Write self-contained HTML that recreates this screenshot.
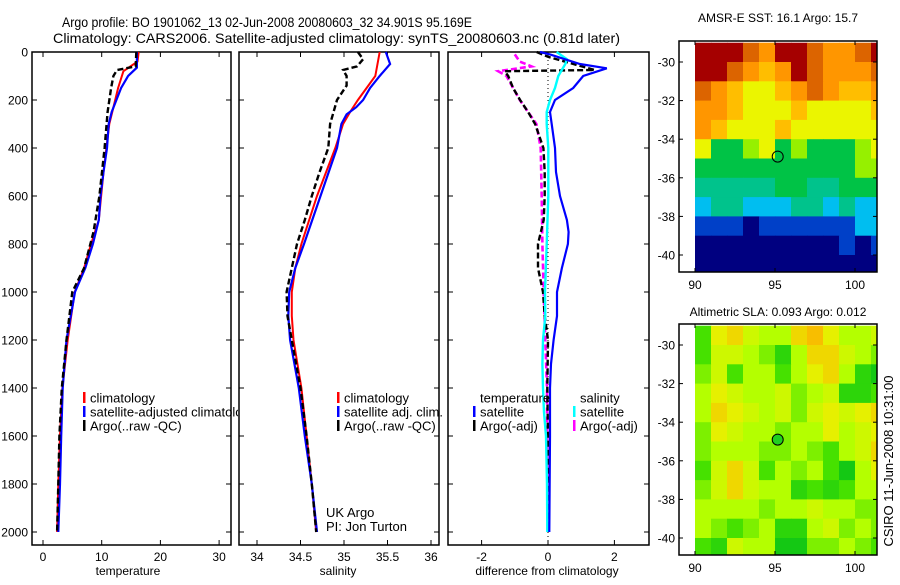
<!DOCTYPE html>
<html><head><meta charset="utf-8"><style>
body{margin:0;background:#fff}
svg text{font-family:"Liberation Sans",sans-serif;fill:#000}
</style></head><body>
<svg id="chart" width="900" height="580" viewBox="0 0 900 580" xmlns="http://www.w3.org/2000/svg">
<rect width="900" height="580" fill="#fff"/>
<text x="62" y="27" font-size="14" textLength="410" lengthAdjust="spacingAndGlyphs">Argo profile: BO 1901062_13 02-Jun-2008 20080603_32 34.901S 95.169E</text>
<text x="53" y="43" font-size="14" textLength="567" lengthAdjust="spacingAndGlyphs">Climatology: CARS2006. Satellite-adjusted climatology: synTS_20080603.nc (0.81d later)</text>
<defs><clipPath id="legclip"><rect x="0" y="0" width="238" height="580"/></clipPath></defs>
<g id="layer"></g>
</svg>
<script>
// ---------- profile data ----------
const tempClimDepth = [0,40,80,150,200,300,500,700,800,900,1000,1200,1400,1600,1800,2000];
const tempClim      = [16.3,16.1,13.7,12.8,12.3,11.3,10.3,9.5,8.2,7.0,5.4,4.2,3.3,2.9,2.6,2.4];
const tempSatDepth  = [0,65,100,150,200,250,300,400,500,600,700,800,900,1000,1200,1400,1600,1800,2000];
const tempSat       = [16.0,16.0,14.5,13.3,12.5,11.7,11.2,10.9,10.3,9.8,9.5,8.5,7.2,5.45,4.0,3.35,3.1,2.9,2.6];
const tempArgoDepth = [0,60,75,100,150,250,400,600,750,900,1000,1200,1400,1600,1800,2000];
const tempArgo      = [15.9,15.8,12.6,12.0,11.6,11.0,10.5,9.6,8.6,7.0,5.0,4.0,3.2,2.8,2.6,2.4];

const salClimDepth = [0,100,150,200,250,300,400,600,800,900,1000,1100,1200,1400,1600,1800,2000];
const salClim      = [35.41,35.36,35.26,35.16,35.07,34.99,34.90,34.69,34.51,34.44,34.40,34.40,34.42,34.51,34.57,34.63,34.68];
const salSatDepth  = [0,50,100,150,200,230,260,300,400,600,800,900,1000,1100,1200,1400,1600,1800,2000];
const salSat       = [35.48,35.53,35.41,35.30,35.22,35.14,35.03,34.97,34.92,34.73,34.54,34.44,34.37,34.36,34.38,34.48,34.55,34.63,34.69];
const salArgoDepth = [0,30,60,75,100,140,200,300,400,500,600,700,800,900,1000,1100,1200,1400,1600,1800,2000];
const salArgo      = [35.16,35.22,35.15,34.99,35.03,35.03,34.92,34.84,34.82,34.72,34.63,34.55,34.46,34.40,34.34,34.35,34.40,34.50,34.57,34.63,34.68];

const dTSatDepth  = [0,10,50,68,100,150,200,250,300,400,500,600,700,750,800,900,1000,1100,1200,1300,1400,1600,2000];
const dTSat       = [-0.24,0.06,0.96,1.77,1.06,0.76,0.21,0.06,0.11,0.21,0.24,0.36,0.57,0.62,0.60,0.42,0.27,0.27,0.17,0.09,0.06,0.06,0.04];
const dTArgoDepth = [0,20,75,80,100,150,200,250,300,400,500,600,700,800,900,1000,1100,1200,1400,1600,2000];
const dTArgo      = [-0.34,0.0,1.4,-1.3,-1.2,-1.05,-0.84,-0.6,-0.39,-0.14,-0.1,-0.1,-0.13,-0.3,-0.3,-0.15,-0.1,0.0,-0.02,0.0,0.02];
const dSSatDepth  = [0,30,50,100,150,200,250,300,400,600,800,1000,1100,1200,1300,1400,1500,1600,1800,2000];
const dSSat       = [0.26,0.57,0.52,0.31,0.21,0.06,-0.04,-0.04,0.01,0.01,-0.04,-0.09,-0.08,-0.15,-0.17,-0.15,-0.12,-0.06,-0.03,-0.02];
const dSArgoDepth = [10,40,60,80,100,150,200,250,300,400,600,800,1000,1200,1400,2000];
const dSArgo      = [-1.0,-0.85,-0.5,-1.5,-1.25,-1.05,-0.85,-0.6,-0.35,-0.22,-0.19,-0.17,-0.13,-0.08,-0.03,-0.01];

const depthTicks = [0,200,400,600,800,1000,1200,1400,1600,1800,2000];
const tempTicks = [0,10,20,30];
const salTicks = [34,34.5,35,35.5,36];
const diffTicks = [-2,0,2];

// ---------- map data (1-degree cells, rows from -29 southward, cols from 90 eastward) ----------
const mapLonTicks = [90,95,100];
const mapLatTicks = [-30,-32,-34,-36,-38,-40];
const sstGrid = [
 [19,19,19,18.3,17.6,19,19,18.3,17.6,17.6,18.3,19],
 [19,19,18.3,17.6,17,17.6,19,18.3,17.6,17.6,17.6,18.3],
 [18.3,17.6,17,16.4,16.4,17,17.6,18.3,17.6,17,17,17.6],
 [17.6,17.6,17,16.4,16.4,16.4,17,16.4,16.4,16.4,16.4,17],
 [17.6,17,16.4,16.4,16.4,17,16.4,16.4,16.4,16.4,16.4,16.4],
 [16.4,15.4,15.4,15.9,16.4,15.4,15.9,15.4,15.4,15.4,15.9,16.4],
 [15.4,15.4,15.4,15.4,15.4,15.4,15.4,15.4,15.4,15.4,15.9,15.9],
 [14.8,14.8,14.8,14.8,14.8,15.4,15.4,14.8,14.8,15.4,15.4,15.4],
 [14.1,14.8,14.8,14.1,14.1,14.1,14.8,14.8,14.1,14.8,14.1,14.1],
 [13.4,13.4,13.4,12.7,13.4,13.4,13.4,13.4,13.4,13.4,14.1,14.1],
 [12.7,12.7,12.7,12.7,12.7,12.7,12.7,12.7,12.7,13.4,12.7,13.4],
 [12.7,12.7,12.7,12.7,12.7,12.7,12.7,12.7,12.7,12.7,12.7,12.7]
];
const slaGrid = [
 [-0.1,0.1,0.15,0.05,0,0,0.15,0.2,0.1,0,0,0.05],
 [-0.1,0.05,0.05,0,-0.05,-0.15,0,0.15,0.15,0.05,0,-0.05],
 [-0.05,0.05,-0.1,0,0,-0.1,0,0.1,0.15,0,-0.15,-0.2],
 [0,0.1,0.05,0,0,0.05,-0.05,0,0.05,-0.15,-0.15,-0.1],
 [0,0.15,0.1,0.05,0,0.05,-0.05,0.05,0.1,0.05,0.1,0.15],
 [-0.05,0.1,0.05,0,0,-0.05,0,0,0.1,0,0.05,0.1],
 [-0.05,0,0,0,-0.05,-0.05,0,-0.05,-0.1,0,0.05,0.15],
 [-0.1,0.05,0.15,0.05,-0.1,0,-0.05,0,-0.1,-0.2,0,0.1],
 [-0.05,0.05,0.15,0.05,0,0,-0.15,-0.1,-0.15,-0.1,0,0],
 [0,0,0,0,-0.05,0,0,0.05,0,0,-0.05,-0.05],
 [0,-0.05,-0.1,-0.05,0,-0.15,-0.15,0,0.05,-0.05,0,-0.05],
 [-0.1,-0.15,0.05,0,0,-0.2,-0.2,-0.05,-0.05,0,-0.05,-0.1]
];
const argoLon = 95.169, argoLat = -34.901;

// ---------- helpers ----------
const NS="http://www.w3.org/2000/svg";
const layer=document.getElementById('layer');
function mk(tag,attrs,parent){const e=document.createElementNS(NS,tag);for(const k in attrs)e.setAttribute(k,attrs[k]);(parent||layer).appendChild(e);return e;}
function txt(x,y,s,size,anchor,parent){const t=mk('text',{x:x,y:y,'font-size':size||12,'text-anchor':anchor||'start'},parent);t.textContent=s;return t;}
const yDepth=d=>52+d*0.24;
const PB=545, PT=52;

const panels=[
 {name:'temperature',x0:32,x1:231,xs:v=>43+v*5.87,ticks:tempTicks,label:'temperature',lx:128},
 {name:'salinity',x0:239,x1:439,xs:v=>257+(v-34)*87,ticks:salTicks,label:'salinity',lx:338},
 {name:'difference',x0:448,x1:649,xs:v=>548+v*33.2,ticks:diffTicks,label:'difference from climatology',lx:547}
];

function drawLine(p,depths,vals,color,dash,w,name){
  let d='';
  for(let i=0;i<vals.length;i++){d+=(i?'L':'M')+p.xs(vals[i]).toFixed(1)+','+yDepth(depths[i]).toFixed(1);}
  const a={d:d,fill:'none',stroke:color,'stroke-width':w||2.2};
  if(dash)a['stroke-dasharray']=dash;
  const e=mk('path',a,p.g);
  
  
}

panels.forEach((p,pi)=>{
  p.g=mk('g',{});
  
  
  const fr=mk('rect',{x:p.x0,y:PT,width:p.x1-p.x0,height:PB-PT,fill:'none',stroke:'#000','stroke-width':1.5},p.g);
  
  
  depthTicks.forEach(d=>{
    const y=yDepth(d);
    mk('line',{x1:p.x0,x2:p.x0+5,y1:y,y2:y,stroke:'#000'},p.g);
    mk('line',{x1:p.x1-5,x2:p.x1,y1:y,y2:y,stroke:'#000'},p.g);
    if(pi===0){const t=txt(28,y+4.5,String(d),12,'end',p.g);
      
      }
  });
  p.ticks.forEach(v=>{
    const x=p.xs(v);
    mk('line',{x1:x,x2:x,y1:PB,y2:PB-5,stroke:'#000'},p.g);
    mk('line',{x1:x,x2:x,y1:PT,y2:PT+5,stroke:'#000'},p.g);
    const t=txt(x,561,String(v),12,'middle',p.g);
    
    
  });
  const lt=txt(p.lx,575,p.label,12,'middle',p.g);
  
  
});

// temperature
drawLine(panels[0],tempClimDepth,tempClim,'#f00',null,2,'temp-climatology-line');
drawLine(panels[0],tempSatDepth,tempSat,'#00f',null,2.2,'temp-satellite-line');
drawLine(panels[0],tempArgoDepth,tempArgo,'#000','6,3',2.4,'temp-argo-line');
// salinity
drawLine(panels[1],salClimDepth,salClim,'#f00',null,2,'sal-climatology-line');
drawLine(panels[1],salSatDepth,salSat,'#00f',null,2.2,'sal-satellite-line');
drawLine(panels[1],salArgoDepth,salArgo,'#000','6,3',2.4,'sal-argo-line');
// difference
mk('line',{x1:548,x2:548,y1:PT,y2:PB,stroke:'#000','stroke-dasharray':'1,3'},panels[2].g);
drawLine(panels[2],dSArgoDepth,dSArgo,'#f0f','6,3',2.6,'sal-argo-diff-line');
drawLine(panels[2],dTArgoDepth,dTArgo,'#000','6,3',2.4,'temp-argo-diff-line');
drawLine(panels[2],dSSatDepth,dSSat,'#0ff',null,2.4,'sal-satellite-diff-line');
drawLine(panels[2],dTSatDepth,dTSat,'#00f',null,2.2,'temp-satellite-diff-line');

// legends
function legend(x,y,items,name,clip){
  const g=mk('g',clip?{'clip-path':'url(#legclip)'}:{});
  
  
  items.forEach((it,i)=>{
    const yy=y+i*14;
    if(it.c)mk('rect',{x:x,y:yy-6,width:2.5,height:11,fill:it.c},g);
    txt(x+7,yy+4.5,it.t,13,'start',g);
  });
}
legend(83,398,[{c:'#f00',t:'climatology'},{c:'#00f',t:'satellite-adjusted climatology'},{c:'#000',t:'Argo(..raw -QC)'}],'temperature-legend',true);
legend(337,398,[{c:'#f00',t:'climatology'},{c:'#00f',t:'satellite adj. clim.'},{c:'#000',t:'Argo(..raw -QC)'}],'salinity-legend');
legend(473,398,[{c:null,t:'temperature'},{c:'#00f',t:'satellite'},{c:'#000',t:'Argo(-adj)'}],'diff-temperature-legend');
legend(573,398,[{c:null,t:'salinity'},{c:'#0ff',t:'satellite'},{c:'#f0f',t:'Argo(-adj)'}],'diff-salinity-legend');
const uk=txt(326,517,'UK Argo',13);


const pi=txt(326,531,'PI: Jon Turton',13);



// ---------- maps ----------
const sstStops=[[12.7,[0,0,128]],[13.4,[0,64,200]],[14.1,[0,190,240]],[14.8,[0,195,140]],[15.4,[0,195,70]],[15.9,[150,240,0]],[16.4,[235,245,0]],[17.0,[255,190,0]],[17.6,[255,150,0]],[18.3,[220,100,0]],[19,[165,0,0]]];
const slaStops=[[-0.2,[20,200,20]],[-0.1,[70,225,0]],[0,[180,255,0]],[0.1,[230,240,0]],[0.2,[248,190,0]]];
function cmap(stops,v){
  if(v<=stops[0][0])return 'rgb('+stops[0][1]+')';
  for(let i=1;i<stops.length;i++){if(v<=stops[i][0]){const a=stops[i-1],b=stops[i],f=(v-a[0])/(b[0]-a[0]);
    return 'rgb('+a[1].map((c,k)=>Math.round(c+(b[1][k]-c)*f)).join(',')+')';}}
  return 'rgb('+stops[stops.length-1][1]+')';
}
function drawMap(top,grid,stops,title,name,fillCircle,titleY){
  const g=mk('g',{});
  
  
  const lonX=l=>695+(l-90)*16;
  const latY=l=>top+21+(-30-l)*19.3;
  const fx0=679,fx1=877,fy0=top,fy1=top+231;
  const cid='clip'+name;
  const cp=mk('clipPath',{id:cid},g);mk('rect',{x:695,y:fy0,width:fx1-695,height:fy1-fy0},cp);
  const cg=mk('g',{'clip-path':'url(#'+cid+')'},g);
  grid.forEach((row,r)=>row.forEach((v,c)=>{
    const x=lonX(90+c),y=latY(-29-r);
    const cell=mk('rect',{x:x,y:y,width:16.5,height:19.8,fill:cmap(stops,v)},cg);
    
    
  }));
  const fr=mk('rect',{x:fx0,y:fy0,width:fx1-fx0,height:fy1-fy0,fill:'none',stroke:'#000','stroke-width':1.5},g);
  
  
  mapLonTicks.forEach(l=>{const x=lonX(l);
    mk('line',{x1:x,x2:x,y1:fy0,y2:fy0+4,stroke:'#000'},g);
    mk('line',{x1:x,x2:x,y1:fy1,y2:fy1-4,stroke:'#000'},g);
    const t=txt(x,fy1+17,String(l),12,'middle',g);
    
    });
  mapLatTicks.forEach(l=>{const y=latY(l);
    mk('line',{x1:fx0,x2:fx0+4,y1:y,y2:y,stroke:'#000'},g);
    mk('line',{x1:fx1,x2:fx1-4,y1:y,y2:y,stroke:'#000'},g);
    const t=txt(675,y+4.5,String(l),12,'end',g);
    
    });
  const c=mk('circle',{cx:lonX(argoLon),cy:latY(argoLat),r:5.5,fill:fillCircle||'none',stroke:'#000','stroke-width':1},g);
  
  
  const tt=txt(778,titleY,title,12,'middle',g);
  
  
}
drawMap(41,sstGrid,sstStops,'AMSR-E SST: 16.1 Argo: 15.7','sst-map',null,22);
drawMap(324,slaGrid,slaStops,'Altimetric SLA: 0.093 Argo: 0.012','sla-map','#20d020',316);
const cs=txt(0,0,'CSIRO 11-Jun-2008 10:31:00',13,'middle');
cs.setAttribute('transform','translate(893,461) rotate(-90)');


</script>
</body></html>
